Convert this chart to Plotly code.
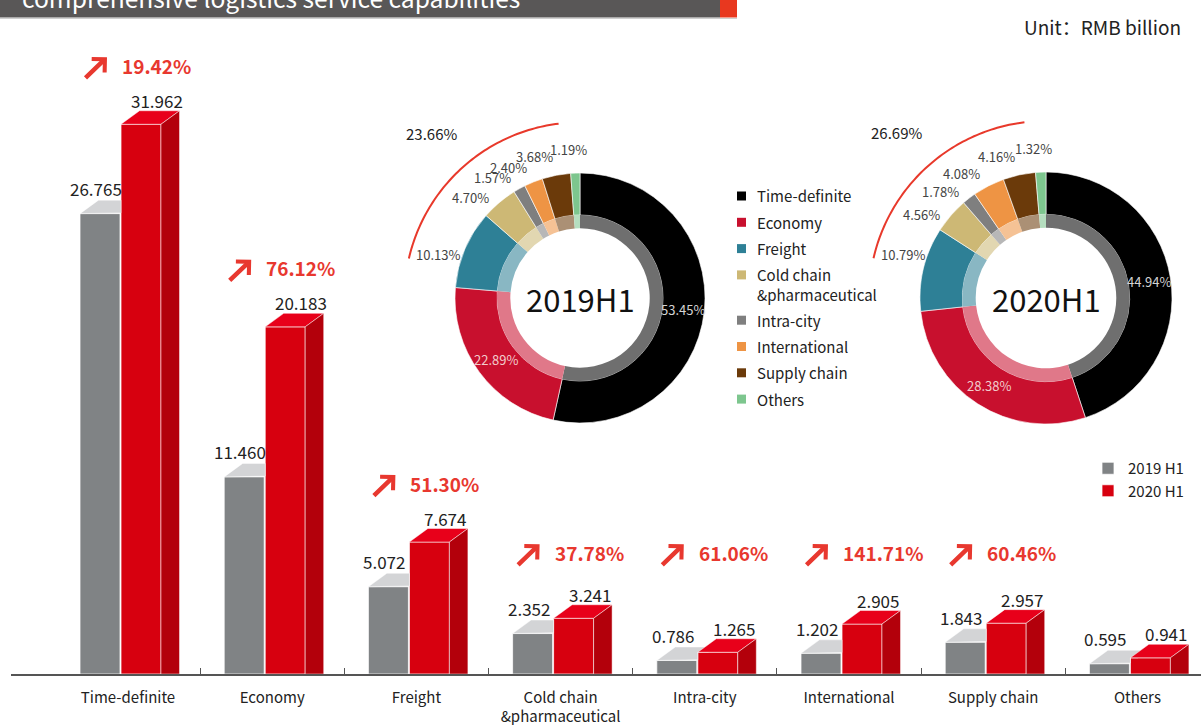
import math
import plotly.graph_objects as go

# ---------------- data ----------------
categories = ["Time-definite", "Economy", "Freight", "Cold chain<br>&pharmaceutical",
              "Intra-city", "International", "Supply chain", "Others"]
rev_2019 = [26.765, 11.460, 5.072, 2.352, 0.786, 1.202, 1.843, 0.595]
rev_2020 = [31.962, 20.183, 7.674, 3.241, 1.265, 2.905, 2.957, 0.941]
growth_pct = [19.42, 76.12, 51.30, 37.78, 61.06, 141.71, 60.46, None]
series_names = ["2019 H1", "2020 H1"]
pie_titles = ["2019H1", "2020H1"]
title_text = "comprehensive logistics service capabilities"
unit_text = "Unit：RMB billion"

# ---------------- styling / geometry ----------------
FONT = "Noto Sans CJK SC"
W, H = 1201, 725
X_LEFT_PX = 11
CAT0_PX = 128.0
CAT_STEP_PX = 144.2
BASE_PX = 674
PX_PER_UNIT = 17.2

GRAY_FRONT, GRAY_TOP = "#808385", "#d3d4d6"
RED_FRONT, RED_TOP, RED_SIDE = "#d7000f", "#e8001a", "#b3000b"
GROWTH_RED = "#e8382f"
pie_colors = ["#000000", "#c8102e", "#2e8096", "#cdb875", "#7f7f7f", "#ee9444", "#6b3a0a", "#7dc68e"]


def px2v(px):
    return (px - CAT0_PX) / CAT_STEP_PX


def pxx(px):
    return px / W


def pxy(py):
    return 1 - py / H


BAR_W = 40 / CAT_STEP_PX
GRAY_OFF = -48 / CAT_STEP_PX
RED_OFF = -7 / CAT_STEP_PX
DX = 18.5 / CAT_STEP_PX
DY = 13.5 / PX_PER_UNIT
GROWTH_FLOOR = 3.65

fig = go.Figure()
xs = list(range(len(categories)))

edge = dict(color="rgba(255,255,255,0.75)", width=1)
fig.add_trace(go.Bar(x=xs, y=rev_2019, width=BAR_W, offset=GRAY_OFF, name=series_names[0],
                     marker=dict(color=GRAY_FRONT, line=edge), legend="legend", hoverinfo="skip"))
fig.add_trace(go.Bar(x=xs, y=rev_2020, width=BAR_W, offset=RED_OFF, name=series_names[1],
                     marker=dict(color=RED_FRONT, line=edge), legend="legend", hoverinfo="skip"))


def add_poly(xl, yl, pts):
    for a, b in pts:
        xl.append(a)
        yl.append(b)
    xl.append(pts[0][0])
    yl.append(pts[0][1])
    xl.append(None)
    yl.append(None)


gtx, gty, rtx, rty, rsx, rsy = [], [], [], [], [], []
for i in xs:
    v, w = rev_2019[i], rev_2020[i]
    gx0 = i + GRAY_OFF
    gx1 = gx0 + BAR_W
    rx0 = i + RED_OFF
    rx1 = rx0 + BAR_W
    yr = v + DY * (rx0 - gx1) / DX
    if w >= v + DY:
        pts = [(gx0, v), (gx1, v), (rx0, yr), (rx0, v + DY), (gx0 + DX, v + DY)]
    else:
        xw = gx1 + DX * (w - v) / DY
        pts = [(gx0, v), (gx1, v), (rx0, yr), (rx0, w), (xw, w), (gx1 + DX, v + DY), (gx0 + DX, v + DY)]
    add_poly(gtx, gty, pts)
    add_poly(rtx, rty, [(rx0, w), (rx1, w), (rx1 + DX, w + DY), (rx0 + DX, w + DY)])
    add_poly(rsx, rsy, [(rx1, 0), (rx1, w), (rx1 + DX, w + DY), (rx1 + DX, 0)])

for px_, py_, col in [(gtx, gty, GRAY_TOP), (rtx, rty, RED_TOP), (rsx, rsy, RED_SIDE)]:
    fig.add_trace(go.Scatter(x=px_, y=py_, mode="lines", fill="toself", fillcolor=col,
                             line=dict(color="rgba(255,255,255,0.6)", width=0.8),
                             showlegend=False, hoverinfo="skip"))

annotations = []
# value labels
for i in xs:
    annotations.append(dict(x=i + GRAY_OFF + BAR_W / 2, y=rev_2019[i], xref="x", yref="y",
                            text=f"{rev_2019[i]:.3f}", showarrow=False, xshift=-4, yshift=25,
                            xanchor="center", yanchor="middle", font=dict(family=FONT, size=17, color="#222")))
    annotations.append(dict(x=i + RED_OFF + BAR_W / 2, y=rev_2020[i], xref="x", yref="y",
                            text=f"{rev_2020[i]:.3f}", showarrow=False, xshift=16, yshift=24,
                            xanchor="center", yanchor="middle", font=dict(family=FONT, size=17, color="#222")))
# growth labels
for i in xs:
    g = growth_pct[i]
    if g is None:
        continue
    yl = max(rev_2020[i], GROWTH_FLOOR)
    annotations.append(dict(x=i, y=yl, xref="x", yref="y", text=f"<b>{g:.2f}%</b>", showarrow=False,
                            xshift=-8, yshift=59, xanchor="left", yanchor="middle",
                            font=dict(family=FONT, size=19, color=GROWTH_RED)))
    annotations.append(dict(x=i, y=yl, xref="x", yref="y", text="", showarrow=True,
                            xshift=-21, yshift=67, ax=-23, ay=22, arrowhead=4, arrowsize=0.8,
                            arrowwidth=4.5, arrowcolor=GROWTH_RED, standoff=0))

# ---------------- donuts ----------------
pie_geo = [(580, 298, 125), (1046, 298, 126)]
HOLE_OUT = 0.664
INNER_HOLE = 0.84
LABEL_R = 1.19
INSIDE_R = 0.83
inside_colors = ["#d4d4d4", "#f2cccc"]
shapes = []
for k, (vals, (cx, cy, R)) in enumerate(zip([rev_2019, rev_2020], pie_geo)):
    dom = dict(x=[pxx(cx - R), pxx(cx + R)], y=[pxy(cy + R), pxy(cy - R)])
    fig.add_trace(go.Pie(labels=categories, values=vals, sort=False, direction="clockwise", rotation=0,
                         hole=HOLE_OUT, domain=dom,
                         marker=dict(colors=pie_colors, line=dict(color="white", width=0.6)),
                         textinfo="none", showlegend=False, hoverinfo="label+percent"))
    Ri = R * HOLE_OUT
    dom_i = dict(x=[pxx(cx - Ri), pxx(cx + Ri)], y=[pxy(cy + Ri), pxy(cy - Ri)])
    fig.add_trace(go.Pie(labels=categories, values=vals, sort=False, direction="clockwise", rotation=0,
                         hole=INNER_HOLE, domain=dom_i, opacity=0.56,
                         marker=dict(colors=pie_colors, line=dict(color="white", width=0)),
                         textinfo="none", showlegend=False, hoverinfo="skip"))
    total = sum(vals)
    cum = 0.0
    for j, v in enumerate(vals):
        mid = 360 * (cum + v / 2) / total
        cum += v
        pct = f"{100 * v / total:.2f}%"
        if j < 2:
            t = math.radians(mid)
            r = R * INSIDE_R
            annotations.append(dict(x=pxx(cx + r * math.sin(t)), y=pxy(cy - r * math.cos(t)), xref="paper",
                                    yref="paper", text=pct, showarrow=False, xanchor="center", yanchor="middle",
                                    font=dict(family=FONT, size=13, color=inside_colors[j])))
            continue
        ang = max(287, mid - min(7, 360 - mid))
        t = math.radians(ang)
        r = R * LABEL_R
        annotations.append(dict(x=pxx(cx + r * math.sin(t)), y=pxy(cy - r * math.cos(t)), xref="paper",
                                yref="paper", text=pct, showarrow=False, xanchor="center", yanchor="middle",
                                font=dict(family=FONT, size=13, color="#444")))
    # red arc
    ra = R * 1.405
    pts = []
    for a in range(283, 354):
        t = math.radians(a)
        pts.append((pxx(cx + ra * math.sin(t)), pxy(cy - ra * math.cos(t))))
    path = "M " + " L ".join(f"{p[0]:.5f},{p[1]:.5f}" for p in pts)
    shapes.append(dict(type="path", path=path, xref="paper", yref="paper",
                       line=dict(color="#e8392b", width=2)))
    share = 100 * sum(vals[2:]) / total
    t = math.radians(318)
    rs = R * 1.77
    annotations.append(dict(x=pxx(cx + rs * math.sin(t)), y=pxy(cy - rs * math.cos(t)), xref="paper",
                            yref="paper", text=f"{share:.2f}%", showarrow=False, xanchor="center",
                            yanchor="middle", font=dict(family=FONT, size=15, color="#222")))
    annotations.append(dict(x=pxx(cx), y=pxy(cy), xref="paper", yref="paper", text=pie_titles[k],
                            showarrow=False, xanchor="center", yanchor="middle",
                            font=dict(family=FONT, size=31, color="#111")))

# donut legend
LEG_X, LEG_Y0, LEG_STEP, LEG_LINE = 741.5, 196, 26.3, 19
extra = 0
for j, lab in enumerate(categories):
    yc = LEG_Y0 + LEG_STEP * j + LEG_LINE * extra
    nlines = lab.count("<br>") + 1
    shapes.append(dict(type="rect", xref="paper", yref="paper", x0=pxx(LEG_X - 4.5), x1=pxx(LEG_X + 4.5),
                       y0=pxy(yc + 4.5), y1=pxy(yc - 4.5), fillcolor=pie_colors[j], line=dict(width=0)))
    annotations.append(dict(x=pxx(755), y=pxy(yc + LEG_LINE * (nlines - 1) / 2), xref="paper", yref="paper",
                            text=lab, showarrow=False, xanchor="left", yanchor="middle", align="left",
                            font=dict(family=FONT, size=15, color="#222")))
    extra += nlines - 1

# ---------------- header ----------------
shapes.append(dict(type="rect", xref="paper", yref="paper", x0=0, x1=pxx(720), y0=pxy(17.5), y1=1.02,
                   fillcolor="#595757", line=dict(width=0), layer="below"))
shapes.append(dict(type="rect", xref="paper", yref="paper", x0=pxx(720), x1=pxx(737), y0=pxy(17.5), y1=1.02,
                   fillcolor="#e8381f", line=dict(width=0), layer="below"))
shapes.append(dict(type="line", xref="paper", yref="paper", x0=0, x1=pxx(737), y0=pxy(18.5), y1=pxy(18.5),
                   line=dict(color="#cfcfcf", width=1)))
annotations.append(dict(x=pxx(20), y=pxy(-3), xref="paper", yref="paper", text=title_text, showarrow=False,
                        xanchor="left", yanchor="middle", font=dict(family=FONT, size=24.6, color="white")))
annotations.append(dict(x=pxx(1183), y=pxy(27), xref="paper", yref="paper", text=unit_text, showarrow=False,
                        xanchor="right", yanchor="middle", font=dict(family=FONT, size=19, color="#222")))

fig.update_layout(
    template="none",
    width=W, height=H,
    margin=dict(l=0, r=0, t=0, b=0),
    paper_bgcolor="white", plot_bgcolor="rgba(0,0,0,0)",
    barmode="overlay",
    showlegend=True,
    xaxis=dict(domain=[X_LEFT_PX / W, 1], range=[px2v(X_LEFT_PX), px2v(W)], tickmode="array",
               tickvals=xs, ticktext=categories, ticks="", showgrid=False, zeroline=False,
               showline=True, linecolor="#555", linewidth=1.5, ticklabelstandoff=9,
               tickfont=dict(family=FONT, size=15, color="#222"), automargin=False, fixedrange=True,
               minor=dict(tickmode="array", tickvals=[i + 0.5 for i in xs[:-1]], ticks="inside",
                          ticklen=6, tickwidth=1, tickcolor="#555", showgrid=False)),
    yaxis=dict(domain=[(H - BASE_PX) / H, 1], range=[0, BASE_PX / PX_PER_UNIT], visible=False,
               automargin=False, fixedrange=True),
    legend=dict(x=pxx(1088), y=pxy(452), xanchor="left", yanchor="top", bgcolor="rgba(0,0,0,0)",
                font=dict(family=FONT, size=15, color="#222")),
    annotations=annotations,
    shapes=shapes,
    font=dict(family=FONT),
)

fig.write_html("out.html", config={"displayModeBar": False},
               post_script="document.body.style.margin='0px';document.body.style.overflow='hidden';")
